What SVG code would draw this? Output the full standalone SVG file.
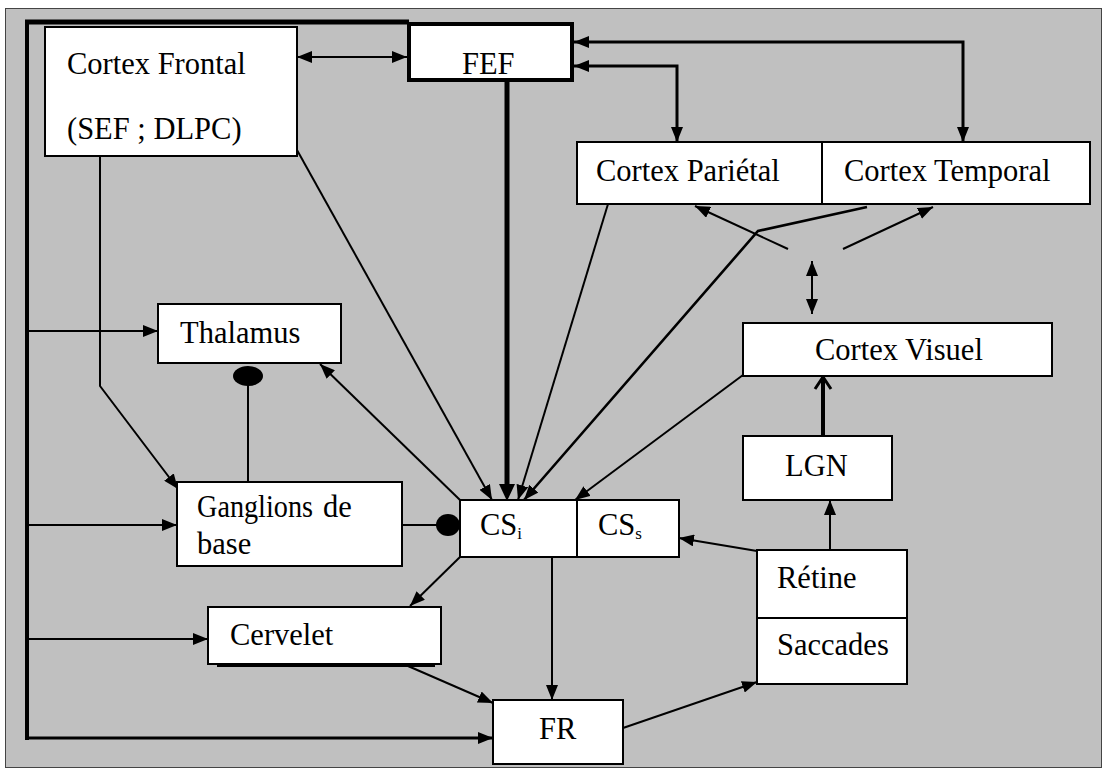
<svg xmlns="http://www.w3.org/2000/svg" width="1107" height="773" viewBox="0 0 1107 773">
<style>
.box{fill:#fff;stroke:#000;stroke-width:2}
text{font-family:'Liberation Serif','Times New Roman',serif;font-size:30.5px;fill:#000}
.sub{font-size:17px}
.c{fill:none;stroke:#000;stroke-width:2}
.c3{fill:none;stroke:#000;stroke-width:3}
.a{marker-end:url(#ah)}
.ab{marker-start:url(#ah);marker-end:url(#ah)}
</style>
<defs>
<marker id="ah" viewBox="0 0 15 12" refX="15" refY="6" markerWidth="15" markerHeight="12" markerUnits="userSpaceOnUse" orient="auto-start-reverse">
<path d="M0,0 L15,6 L0,12 z" fill="#000"/>
</marker>
<marker id="oh" viewBox="0 0 14 20" refX="13" refY="10" markerWidth="14" markerHeight="20" markerUnits="userSpaceOnUse" orient="auto">
<polyline points="1,2 13,10 1,18" fill="none" stroke="#000" stroke-width="3"/>
</marker>
</defs>
<rect x="5.5" y="8.5" width="1096" height="759" fill="#c0c0c0" stroke="#444" stroke-width="1"/>

<g id="connectors">
<line x1="25" y1="22" x2="409" y2="22" stroke="#000" stroke-width="5"/>
<line x1="27" y1="20" x2="27" y2="740" stroke="#000" stroke-width="4"/>
<line class="c a" x1="27" y1="331" x2="158" y2="331"/>
<line class="c a" x1="27" y1="525" x2="177" y2="525"/>
<line class="c a" x1="27" y1="639" x2="208" y2="639"/>
<line class="c3 a" x1="27" y1="738" x2="493" y2="738"/>
<line class="c ab" x1="297" y1="57" x2="407" y2="57"/>
<polyline class="c3 ab" points="574,42 963,42 963,142"/>
<polyline class="c3 ab" points="574,66 677,66 677,142"/>
<line x1="507" y1="82" x2="507" y2="486" stroke="#000" stroke-width="5"/>
<path d="M499,484 L507,501 L515,484 z" fill="#000"/>
<line class="c a" x1="297" y1="150" x2="492" y2="500"/>
<polyline class="c a" points="100,156 100,386 178,489"/>
<line class="c a" x1="608" y1="204" x2="518" y2="500"/>
<polyline class="c a" points="867,207 758,231 524,500" style="stroke-width:2.6"/>
<line class="c a" x1="788" y1="249" x2="695" y2="206"/>
<line class="c a" x1="843" y1="249" x2="933" y2="207"/>
<line class="c ab" x1="812" y1="261" x2="812" y2="314"/>
<line class="c a" x1="743" y1="375" x2="575" y2="500"/>
<line x1="823" y1="436" x2="823" y2="377" stroke="#000" stroke-width="4" marker-end="url(#oh)"/>
<line class="c a" x1="830" y1="550" x2="830" y2="500"/>
<line class="c a" x1="757" y1="551" x2="679" y2="538"/>
<line class="c a" x1="460" y1="500" x2="320" y2="364"/>
<line class="c a" x1="460" y1="557" x2="410" y2="606"/>
<line class="c a" x1="552" y1="557" x2="552" y2="700"/>
<line class="c a" x1="408" y1="666" x2="493" y2="703"/>
<line class="c a" x1="623" y1="728" x2="757" y2="682"/>
<line class="c" x1="402" y1="525" x2="440" y2="525"/>
<ellipse cx="448" cy="525" rx="12" ry="11" fill="#000"/>
<line class="c" x1="248" y1="380" x2="248" y2="482"/>
<ellipse cx="248" cy="376" rx="15" ry="10" fill="#000"/>
</g>

<g id="cortex-frontal">
<rect class="box" x="45" y="27" width="252" height="129"/>
<text x="67" y="74">Cortex Frontal</text>
<text x="67" y="139">(SEF ; DLPC)</text>
</g>
<g id="fef">
<rect x="409" y="24" width="163" height="56" fill="#fff" stroke="#000" stroke-width="4"/>
<text x="462" y="74">FEF</text>
</g>
<g id="cortex-parietal">
<rect class="box" x="577" y="142" width="245" height="62"/>
<text x="596" y="181">Cortex Pariétal</text>
</g>
<g id="cortex-temporal">
<rect class="box" x="822" y="142" width="268" height="62"/>
<text x="844" y="181">Cortex Temporal</text>
</g>
<g id="thalamus">
<rect class="box" x="158" y="304" width="183" height="59"/>
<text x="180" y="343">Thalamus</text>
</g>
<g id="cortex-visuel">
<rect class="box" x="743" y="323" width="309" height="53"/>
<text x="815" y="360">Cortex Visuel</text>
</g>
<g id="lgn">
<rect class="box" x="743" y="436" width="149" height="64"/>
<text x="785" y="476">LGN</text>
</g>
<g id="ganglions">
<rect class="box" x="177" y="482" width="225" height="84"/>
<text x="197" y="517" textLength="116" lengthAdjust="spacingAndGlyphs">Ganglions</text>
<text x="323" y="517">de</text>
<text x="197" y="554">base</text>
</g>
<g id="csi">
<rect class="box" x="460" y="500" width="117" height="57"/>
<text x="480" y="535">CS<tspan class="sub" dy="4">i</tspan></text>
</g>
<g id="css">
<rect class="box" x="577" y="500" width="102" height="57"/>
<text x="598" y="535">CS<tspan class="sub" dy="4">s</tspan></text>
</g>
<g id="retine">
<rect class="box" x="757" y="550" width="150" height="68"/>
<text x="777" y="588">Rétine</text>
</g>
<g id="saccades">
<rect class="box" x="757" y="618" width="150" height="66"/>
<text x="777" y="655">Saccades</text>
</g>
<g id="cervelet">
<rect class="box" x="218" y="610" width="216" height="56"/>
<rect class="box" x="208" y="607" width="233" height="57"/>
<text x="230" y="645">Cervelet</text>
</g>
<g id="fr">
<rect class="box" x="493" y="700" width="130" height="64"/>
<text x="539" y="739">FR</text>
</g>
</svg>
